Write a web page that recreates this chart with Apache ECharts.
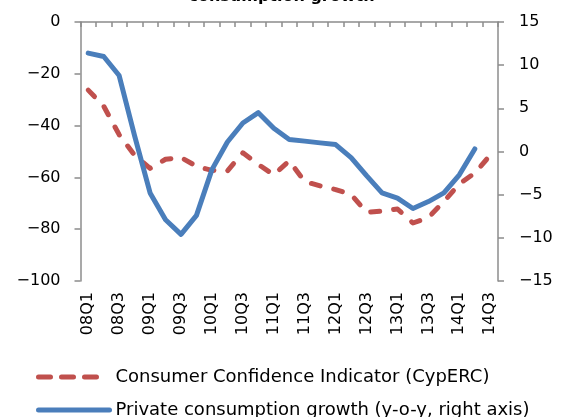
<!DOCTYPE html>
<html>
<head>
<meta charset="utf-8">
<script src="https://cdn.jsdelivr.net/npm/echarts@6/dist/echarts.min.js"></script>
<style>html,body{margin:0;padding:0;background:#fff}#c{width:563px;height:417px}</style>
</head>
<body>
<div id="c"></div>
<script>
var categories = ['08Q1','08Q2','08Q3','08Q4','09Q1','09Q2','09Q3','09Q4','10Q1','10Q2','10Q3','10Q4','11Q1','11Q2','11Q3','11Q4','12Q1','12Q2','12Q3','12Q4','13Q1','13Q2','13Q3','13Q4','14Q1','14Q2','14Q3'];
var confidence = [-26.3, -32.5, -43.5, -51.5, -56.5, -53.0, -52.3, -55.7, -57.3, -57.5, -50.5, -55.0, -59.0, -53.6, -61.6, -63.3, -64.7, -66.6, -73.5, -73.0, -72.2, -77.6, -75.5, -69.3, -62.5, -58.3, -51.4];
var consumption = [11.4, 11.0, 8.8, 1.8, -4.8, -7.9, -9.6, -7.4, -2.1, 1.1, 3.3, 4.5, 2.7, 1.4, 1.2, 1.0, 0.8, -0.7, -2.8, -4.8, -5.4, -6.6, -5.8, -4.8, -2.7, 0.3, null];
var leftTicks = {min: -100, max: 0, interval: 20};
var rightTicks = {min: -15, max: 15, interval: 5};
var titleText = 'consumption growth';
var names = ['Consumer Confidence Indicator (CypERC)', 'Private consumption growth (y-o-y, right axis)'];

var FONT = 'DejaVu Sans';
var axisColor = '#8c8c8c';
var RED = '#c0504d', BLUE = '#4a7ebb';
function minus(v){ return String(v).replace('-', '\u2212'); }
var hiddenSymbol = {color: 'rgba(0,0,0,0)', borderWidth: 0, opacity: 0};

var chart = echarts.init(document.getElementById('c'), null, {renderer: 'canvas'});
chart.setOption({
  animation: false,
  backgroundColor: '#ffffff',
  textStyle: {fontFamily: FONT},
  title: {
    text: titleText, left: 'center', top: -16,
    textStyle: {fontFamily: FONT, fontSize: 16, fontWeight: 'bold', color: '#000'}
  },
  grid: {left: 80.5, right: 65, top: 22, bottom: 136, containLabel: false},
  legend: [
    {
      orient: 'vertical', left: 31, top: 363, itemWidth: 62, itemHeight: 14,
      textStyle: {fontFamily: FONT, fontSize: 18, color: '#000', padding: [0,0,0,10]},
      itemStyle: hiddenSymbol,
      data: [{name: names[0], itemStyle: hiddenSymbol, lineStyle: {type: [12, 11], width: 5, cap: 'round', color: RED}}]
    },
    {
      orient: 'vertical', left: 31, top: 396, itemWidth: 71, itemHeight: 14,
      textStyle: {fontFamily: FONT, fontSize: 18, color: '#000', padding: [0,0,0,1]},
      itemStyle: hiddenSymbol,
      data: [{name: names[1], itemStyle: hiddenSymbol, lineStyle: {width: 5, cap: 'round', color: BLUE}}]
    }
  ],
  xAxis: [
    {
      type: 'category', data: categories, position: 'top', boundaryGap: true,
      axisLine: {onZero: false, lineStyle: {color: axisColor, width: 1.5}},
      axisTick: {show: true, inside: true, length: 5, interval: 0, lineStyle: {color: axisColor, width: 1.5}},
      axisLabel: {show: false}, splitLine: {show: false}
    },
    {
      type: 'category', data: categories, position: 'bottom', boundaryGap: true,
      axisLine: {show: false, onZero: false}, axisTick: {show: false},
      axisLabel: {show: true, interval: 1, rotate: 90, margin: 11, fontFamily: FONT, fontSize: 16, color: '#000'},
      splitLine: {show: false}
    }
  ],
  yAxis: [
    {
      type: 'value', position: 'left', min: leftTicks.min, max: leftTicks.max, interval: leftTicks.interval,
      axisLine: {show: true, lineStyle: {color: axisColor, width: 1.5}},
      axisTick: {show: true, length: 6, lineStyle: {color: axisColor, width: 1.5}},
      axisLabel: {margin: 20, fontFamily: FONT, fontSize: 16, color: '#000', formatter: minus},
      splitLine: {show: false}
    },
    {
      type: 'value', position: 'right', min: rightTicks.min, max: rightTicks.max, interval: rightTicks.interval,
      axisLine: {show: true, lineStyle: {color: axisColor, width: 1.5}},
      axisTick: {show: true, length: 6, lineStyle: {color: axisColor, width: 1.5}},
      axisLabel: {margin: 21, fontFamily: FONT, fontSize: 16, color: '#000', formatter: minus},
      splitLine: {show: false}
    }
  ],
  series: [
    {
      name: names[0], type: 'line', xAxisIndex: 0, yAxisIndex: 0, data: confidence,
      symbol: 'none', showSymbol: false, smooth: false,
      itemStyle: {color: RED},
      lineStyle: {color: RED, width: 5, type: [9, 14], cap: 'round', join: 'round'}
    },
    {
      name: names[1], type: 'line', xAxisIndex: 0, yAxisIndex: 1, data: consumption,
      symbol: 'none', showSymbol: false, smooth: false, connectNulls: false,
      itemStyle: {color: BLUE},
      lineStyle: {color: BLUE, width: 5, cap: 'round', join: 'round'}
    }
  ]
});
</script>
</body>
</html>
